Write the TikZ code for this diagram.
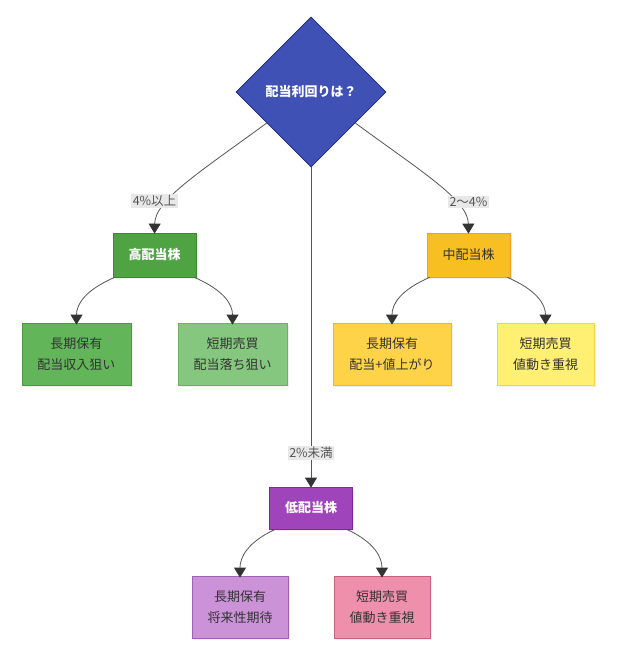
\documentclass[tikz,border=0pt]{standalone}
\usepackage{fontspec}
\setmainfont{Noto Sans CJK JP}
\usetikzlibrary{shapes.geometric,arrows.meta,shadows}
\definecolor{qfill}{HTML}{3F51B5}
\definecolor{qline}{HTML}{1A237E}
\definecolor{hifill}{HTML}{4FA343}
\definecolor{hiline}{HTML}{3A8A30}
\definecolor{hlfill}{HTML}{63B55A}
\definecolor{hlline}{HTML}{4A9A42}
\definecolor{hsfill}{HTML}{85C77E}
\definecolor{hsline}{HTML}{6AB362}
\definecolor{mifill}{HTML}{F7BF22}
\definecolor{miline}{HTML}{F3A21A}
\definecolor{mlfill}{HTML}{FFD347}
\definecolor{mlline}{HTML}{F4B52A}
\definecolor{msfill}{HTML}{FFEF73}
\definecolor{msline}{HTML}{F2D24A}
\definecolor{lofill}{HTML}{A044BC}
\definecolor{loline}{HTML}{7B2A98}
\definecolor{llfill}{HTML}{CC92D8}
\definecolor{llline}{HTML}{A060B6}
\definecolor{lsfill}{HTML}{EE8FAB}
\definecolor{lsline}{HTML}{C8607E}
\definecolor{txt}{HTML}{333333}
\definecolor{lbltxt}{HTML}{555555}
\definecolor{lblbg}{HTML}{E8E8E8}
\definecolor{edgec}{HTML}{555555}
\definecolor{tipc}{HTML}{333333}
\tikzset{
  box/.style={rectangle, draw, line width=0.8pt, inner sep=0pt, align=center,
    font=\fontsize{13}{20.5}\selectfont, text=txt,
    drop shadow={opacity=0.12, shadow xshift=1.5pt, shadow yshift=-1.5pt}},
  parentbox/.style={box, minimum width=83pt, minimum height=44pt},
  childbox/.style={box, minimum height=62pt},
  lbl/.style={fill=lblbg, text=lbltxt, inner sep=1.5pt, font=\fontsize{12.5}{14}\selectfont},
  edge/.style={draw=edgec, line width=0.8pt, -{Triangle[width=12pt,length=10pt,color=tipc]}},
}
\begin{document}
\begin{tikzpicture}[x=1pt,y=-1pt]
\useasboundingbox[fill=white] (0,0) rectangle (620,654);
% question diamond
\node[diamond, aspect=1, minimum size=150pt, inner sep=0pt, fill=qfill, draw=qline,
  line width=0.8pt, text=white, font=\fontsize{13}{14}\selectfont\bfseries] (q) at (311,92) {配当利回りは？};
% parents
\node[parentbox, fill=hifill, draw=hiline, text=white, font=\fontsize{13}{14}\selectfont\bfseries] (hi) at (154.5,255) {高配当株};
\node[parentbox, fill=mifill, draw=miline] (mi) at (468.5,255) {中配当株};
\node[parentbox, fill=lofill, draw=loline, text=white, font=\fontsize{13}{14}\selectfont\bfseries, minimum height=42pt] (lo) at (311,508) {低配当株};
% children
\node[childbox, minimum width=109pt, fill=hlfill, draw=hlline] (hl) at (76.5,354) {長期保有\\配当収入狙い};
\node[childbox, minimum width=109pt, fill=hsfill, draw=hsline] (hs) at (232.5,354) {短期売買\\配当落ち狙い};
\node[childbox, minimum width=118pt, fill=mlfill, draw=mlline] (ml) at (392,354) {長期保有\\配当+値上がり};
\node[childbox, minimum width=97pt, fill=msfill, draw=msline] (ms) at (545.5,354) {短期売買\\値動き重視};
\node[childbox, minimum width=96pt, fill=llfill, draw=llline] (ll) at (240,607) {長期保有\\将来性期待};
\node[childbox, minimum width=96pt, fill=lsfill, draw=lsline] (ls) at (382,607) {短期売買\\値動き重視};
% edges from question
\draw[edge] (q.215) .. controls (200,172) and (155,200) .. ([yshift=-1pt]hi.north);
\draw[edge] (q.-35) .. controls (422,172) and (468,200) .. ([yshift=-1pt]mi.north);
\draw[edge] (q.south) -- ([yshift=-1pt]lo.north);
\node[lbl] (l1) at (154.5,201) {4\%以上};
\node[lbl] (l2) at (468.5,202) {2〜4\%};
\node[lbl] (l3) at (311,453) {2\%未満};
% edges to children
\draw[edge] ([xshift=2pt]hi.south west) .. controls +(-30,13) and +(0,-20) .. ([yshift=-2pt]hl.north);
\draw[edge] ([xshift=-2pt]hi.south east) .. controls +(30,13) and +(0,-20) .. ([yshift=-2pt]hs.north);
\draw[edge] ([xshift=3pt]mi.south west) .. controls +(-30,13) and +(0,-20) .. ([yshift=-2pt]ml.north);
\draw[edge] ([xshift=-3pt]mi.south east) .. controls +(30,13) and +(0,-20) .. ([yshift=-2pt]ms.north);
\draw[edge] ([xshift=6pt]lo.south west) .. controls +(-28,13) and +(0,-20) .. ([yshift=-2pt]ll.north);
\draw[edge] ([xshift=-6pt]lo.south east) .. controls +(28,13) and +(0,-20) .. ([yshift=-2pt]ls.north);
\end{tikzpicture}
\end{document}
